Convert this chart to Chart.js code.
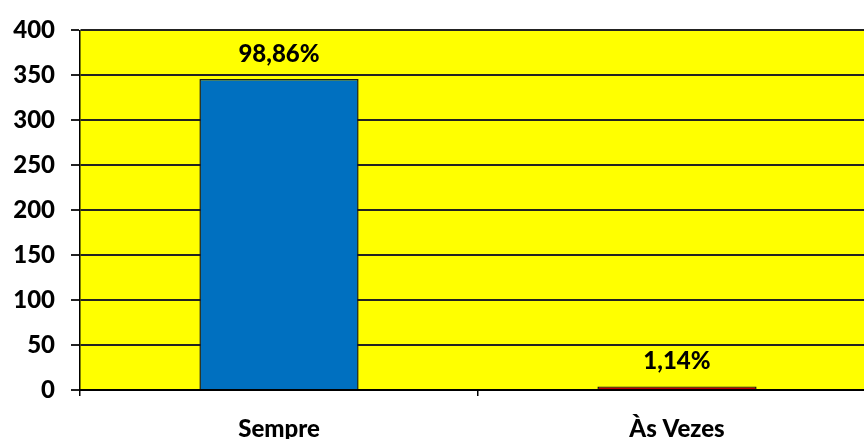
<!DOCTYPE html>
<html>
<head>
<meta charset="utf-8">
<script src="https://cdn.jsdelivr.net/npm/chart.js@4/dist/chart.umd.min.js"></script>
<style>
  html, body { margin: 0; padding: 0; background: #fff; overflow: hidden; }
  #box { width: 864px; height: 439px; overflow: hidden; }
  #box canvas { display: block; }
</style>
</head>
<body>
<div id="box"><canvas id="barChart" width="880" height="439"></canvas></div>
<script>
const categories = ["Sempre", "Às Vezes"];
const counts = [346, 4];
const percentLabels = ["98,86%", "1,14%"];
const barColors = ["#0070C0", "#C00000"];

const font = "Lato";

// yellow plot area
const plotBackground = {
  id: "plotBackground",
  beforeDraw(chart) {
    const { ctx, chartArea: a } = chart;
    ctx.save();
    ctx.fillStyle = "#FFFF00";
    ctx.fillRect(a.left, a.top, a.right - a.left, a.bottom - a.top);
    ctx.restore();
  }
};

// percentage text above bars
const barLabels = {
  id: "barLabels",
  afterDatasetsDraw(chart) {
    const { ctx } = chart;
    const meta = chart.getDatasetMeta(0);
    ctx.save();
    ctx.font = "900 24px " + font;
    ctx.fillStyle = "#000";
    ctx.textAlign = "center";
    ctx.textBaseline = "middle";
    meta.data.forEach((bar, i) => {
      ctx.fillText(percentLabels[i], bar.x, bar.y - 25);
    });
    ctx.restore();
  }
};

new Chart(document.getElementById("barChart").getContext("2d"), {
  type: "bar",
  data: {
    labels: categories,
    datasets: [{
      data: counts,
      backgroundColor: barColors,
      borderColor: "#1a1a1a",
      borderWidth: 1.5,
      barPercentage: 0.4,
      categoryPercentage: 1
    }]
  },
  options: {
    responsive: false,
    animation: false,
    layout: { padding: { top: 27, right: 4, left: 0, bottom: 0 } },
    plugins: {
      legend: { display: false },
      tooltip: { enabled: false }
    },
    scales: {
      y: {
        min: 0,
        max: 400,
        ticks: {
          stepSize: 50,
          color: "#000",
          padding: 16,
          font: { family: font, weight: "900", size: 24 }
        },
        grid: {
          color: "#222",
          lineWidth: 2,
          tickLength: 9
        },
        border: { color: "#000", width: 1.5 },
        afterFit(scale) { scale.width = 80; }
      },
      x: {
        ticks: {
          color: "#000",
          padding: 19,
          font: { family: font, weight: "900", size: 24 }
        },
        grid: {
          drawOnChartArea: false,
          color: "#000",
          lineWidth: 1.5,
          tickLength: 6
        },
        border: { color: "#000", width: 2 },
        afterFit(scale) { scale.height = 49; }
      }
    }
  },
  plugins: [plotBackground, barLabels]
});
</script>
</body>
</html>
